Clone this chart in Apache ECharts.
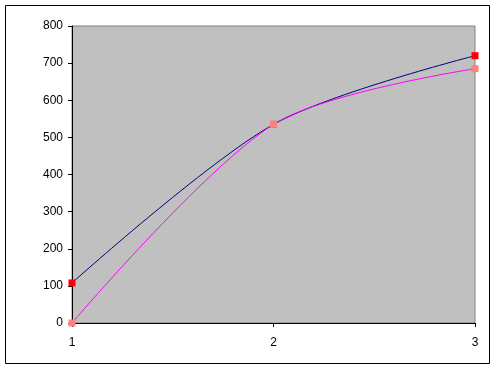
<!DOCTYPE html>
<html>
<head>
<meta charset="utf-8">
<script src="https://cdn.jsdelivr.net/npm/echarts@6/dist/echarts.min.js"></script>
<style>
html,body{margin:0;padding:0;background:#fff;}
#c{width:495px;height:369px;}
</style>
</head>
<body>
<div id="c"></div>
<script>
var categories = ['1', '2', '3'];
var seriesA = [108, 535, 720];
var seriesB = [0, 535, 685];
var yTicks = [0, 100, 200, 300, 400, 500, 600, 700, 800];

var chart = echarts.init(document.getElementById('c'));
chart.setOption({
  animation: false,
  graphic: [{
    type: 'rect',
    shape: {x: 5.5, y: 5.5, width: 484, height: 358},
    style: {fill: 'none', stroke: '#000', lineWidth: 1},
    z: 0
  }],
  grid: {
    left: 72, right: 20, top: 26, bottom: 46,
    show: true, backgroundColor: '#c0c0c0', borderColor: '#808080', borderWidth: 1
  },
  xAxis: {
    type: 'category',
    data: categories,
    boundaryGap: false,
    axisLine: {lineStyle: {color: '#000', width: 1}},
    axisTick: {show: true, length: 4, lineStyle: {color: '#000'}},
    axisLabel: {color: '#000', fontFamily: 'Liberation Sans', fontSize: 12, margin: 14},
    splitLine: {show: false}
  },
  yAxis: {
    type: 'value',
    min: yTicks[0], max: yTicks[yTicks.length - 1], interval: 100,
    axisLine: {show: true, lineStyle: {color: '#000', width: 1}},
    axisTick: {show: true, length: 4, lineStyle: {color: '#000'}},
    axisLabel: {color: '#000', fontFamily: 'Liberation Sans', fontSize: 12, margin: 9},
    splitLine: {show: false}
  },
  series: [{
    type: 'line',
    data: seriesA,
    smooth: 0.3,
    symbol: 'rect',
    symbolSize: 7,
    lineStyle: {color: '#000080', width: 1},
    itemStyle: {color: '#ff0000'},
    z: 2
  }, {
    type: 'line',
    data: seriesB,
    smooth: 0.3,
    symbol: 'rect',
    symbolSize: 7,
    lineStyle: {color: '#ff00ff', width: 1},
    itemStyle: {color: '#ff8080'},
    z: 3
  }]
});
</script>
</body>
</html>
